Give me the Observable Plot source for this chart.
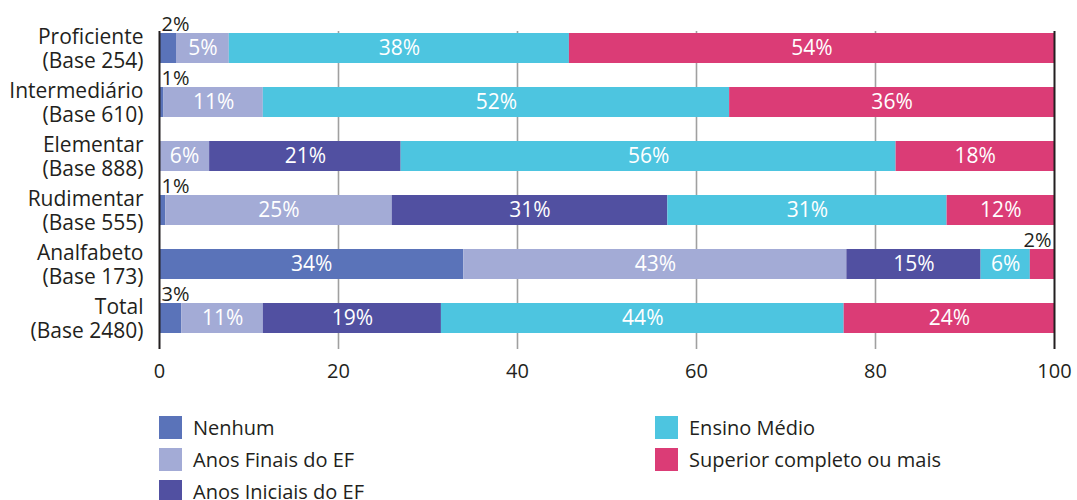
<!DOCTYPE html>
<html>
<head>
<meta charset="utf-8">
<script src="https://cdn.jsdelivr.net/npm/d3@7"></script>
<script src="https://cdn.jsdelivr.net/npm/@observablehq/plot@0.6"></script>
<style>
  html, body { margin: 0; padding: 0; background: #fff; }
  body { width: 1077px; font-family: "Open Sans", sans-serif; color: #231f20; }
  #legend {
    display: grid;
    grid-template-columns: 496px auto;
    grid-template-rows: repeat(3, 23px);
    grid-auto-flow: column;
    row-gap: 9px;
    margin-top: 26px;
    padding-left: 159px;
  }
  .item { display: flex; align-items: center; font-size: 20px; line-height: 23px; white-space: nowrap; }
  .sw { width: 23px; height: 23px; margin-right: 11px; flex: none; }
</style>
</head>
<body>
<div id="chart"></div>
<div id="legend"></div>
<script>
const categories = ["Proficiente", "Intermediário", "Elementar", "Rudimentar", "Analfabeto", "Total"];
const bases = [254, 610, 888, 555, 173, 2480];
const series = ["Nenhum", "Anos Finais do EF", "Anos Iniciais do EF", "Ensino Médio", "Superior completo ou mais"];
const colors = ["#5a73b9", "#a3abd6", "#5150a1", "#4dc5e0", "#db3c76"];

// bar extents (%)
const nenhum       = [1.9, 0.5, 0,    0.7, 34.0, 2.5];
const anosFinais   = [5.9, 11.1, 5.6, 25.3, 42.8, 9.1];
const anosIniciais = [0,   0,   21.4, 30.8, 15.0, 19.9];
const ensinoMedio  = [38.0, 52.1, 55.3, 31.2, 5.5, 45.0];
const superior     = [54.2, 36.3, 17.7, 12.0, 2.7, 23.5];

// printed labels
const nenhumLbl       = ["2%", "1%", "", "1%", "34%", "3%"];
const anosFinaisLbl   = ["5%", "11%", "6%", "25%", "43%", "11%"];
const anosIniciaisLbl = ["", "", "21%", "31%", "15%", "19%"];
const ensinoMedioLbl  = ["38%", "52%", "56%", "31%", "6%", "44%"];
const superiorLbl     = ["54%", "36%", "18%", "12%", "2%", "24%"];

const xTicks = [0, 20, 40, 60, 80, 100];

const valueSets = [nenhum, anosFinais, anosIniciais, ensinoMedio, superior];
const labelSets = [nenhumLbl, anosFinaisLbl, anosIniciaisLbl, ensinoMedioLbl, superiorLbl];

const data = [];
categories.forEach((c, i) => {
  series.forEach((s, j) => {
    data.push({cat: c, series: s, si: j, value: valueSets[j][i], label: labelSets[j][i]});
  });
});
const inside = d => d.value >= 4;

const chart = Plot.plot({
  width: 1077,
  height: 390,
  marginLeft: 159,
  marginRight: 23,
  marginTop: 6,
  marginBottom: 30,
  style: {fontFamily: "Open Sans", fontSize: "20px", color: "#231f20", background: "#fff"},
  x: {domain: [0, 100], axis: null},
  y: {domain: categories, padding: 0.45, axis: null},
  color: {domain: series, range: colors},
  marks: [
    Plot.ruleX(xTicks.filter(t => t > 0 && t < 100), {stroke: "#a0a0a0", strokeWidth: 1.6, insetTop: 25, insetBottom: 11}),
    Plot.barX(data, Plot.stackX({x: "value", y: "cat", fill: "series"})),
    Plot.ruleX([0, 100], {stroke: "#231f20", strokeWidth: 2, insetTop: 25, insetBottom: 11}),
    Plot.textX(data, Plot.stackX({x: "value", y: "cat", text: d => inside(d) ? d.label : "", fill: "white", fontSize: 21, lineAnchor: "middle"})),
    Plot.textX(data, Plot.stackX1({x: "value", y: "cat", text: d => !inside(d) && d.si < 4 ? d.label : "", fill: "#231f20", fontSize: 20, textAnchor: "start", lineAnchor: "bottom", dx: 2, dy: -17.5})),
    Plot.textX(data, Plot.stackX2({x: "value", y: "cat", text: d => !inside(d) && d.si === 4 ? d.label : "", fill: "#231f20", fontSize: 20, textAnchor: "end", lineAnchor: "bottom", dx: -3, dy: -17.5})),
    Plot.text(categories, {y: d => d, text: (d, i) => `${d}\n(Base ${bases[i]})`, frameAnchor: "left", textAnchor: "end", dx: -16, fontSize: 21, lineHeight: 1.14, fill: "#231f20"}),
    Plot.axisX({ticks: xTicks, tickSize: 0, tickPadding: 3, fontSize: 20, label: null, color: "#231f20"})
  ]
});
document.getElementById("chart").appendChild(chart);

const legend = document.getElementById("legend");
series.forEach((s, j) => {
  const it = document.createElement("div");
  it.className = "item";
  const sw = document.createElement("span");
  sw.className = "sw";
  sw.style.background = colors[j];
  it.appendChild(sw);
  it.appendChild(document.createTextNode(s));
  legend.appendChild(it);
});
</script>
</body>
</html>
